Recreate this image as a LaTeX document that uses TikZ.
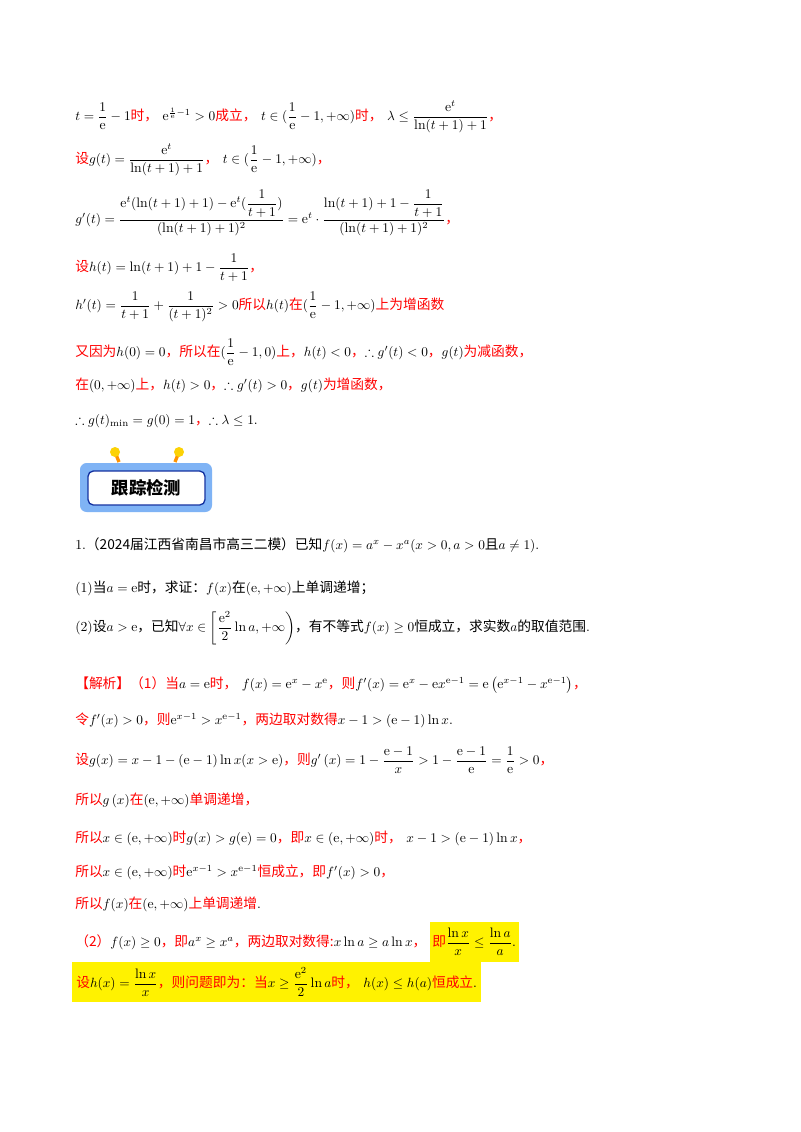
\documentclass[tikz,border=0pt]{standalone}
\usepackage{amsmath,amssymb}
\usepackage{fontspec}
\newfontfamily\cjk{Noto Sans CJK SC}
\newcommand{\rc}[1]{{\color{red}\cjk #1}}
\newcommand{\bc}[1]{{\cjk #1}}
\tikzset{ln/.style={anchor=west,inner sep=0pt,font=\fontsize{10.3}{12}\selectfont},
hl/.style={ln,fill=yellow,inner xsep=2pt,inner ysep=0pt,minimum height=30pt}}
\begin{document}
\begin{tikzpicture}[x=0.75pt,y=-0.75pt]
\useasboundingbox[fill=white] (0,0) rectangle (800,1132);
\node[ln] (l1) at (75,117) {$t=\dfrac{1}{\mathrm e}-1$\rc{时，}\ $\mathrm e^{\frac1{\mathrm e}-1}>0$\rc{成立，}\ $t\in(\dfrac1{\mathrm e}-1,+\infty)$\rc{时，}\ $\lambda\le\dfrac{\mathrm e^t}{\ln(t+1)+1}$\rc{，}};
\node[ln] (l2) at (75,160) {\rc{设}$g(t)=\dfrac{\mathrm e^t}{\ln(t+1)+1}$\rc{，}\ $t\in(\dfrac1{\mathrm e}-1,+\infty)$\rc{，}};
\node[ln] (l3) at (75,213) {$g'(t)=\dfrac{\mathrm e^t(\ln(t+1)+1)-\mathrm e^t(\dfrac1{t+1})}{(\ln(t+1)+1)^2}=\mathrm e^t\cdot\dfrac{\ln(t+1)+1-\dfrac1{t+1}}{(\ln(t+1)+1)^2}$\rc{，}};
\node[ln] (l4) at (75,268) {\rc{设}$h(t)=\ln(t+1)+1-\dfrac1{t+1}$\rc{，}};
\node[ln] (l5) at (75,307) {$h'(t)=\dfrac1{t+1}+\dfrac1{(t+1)^2}>0$\rc{所以}$h(t)$\rc{在}$(\dfrac1{\mathrm e}-1,+\infty)$\rc{上为增函数}};
\node[ln] (l6) at (75,352) {\rc{又因为}$h(0)=0$\rc{，所以在}$(\dfrac1{\mathrm e}-1,0)$\rc{上，}$h(t)<0$\rc{，}$\therefore g'(t)<0$\rc{，}$g(t)$\rc{为减函数，}};
\node[ln] (l7) at (75,385) {\rc{在}$(0,+\infty)$\rc{上，}$h(t)>0$\rc{，}$\therefore g'(t)>0$\rc{，}$g(t)$\rc{为增函数，}};
\node[ln] (l8) at (75,421) {$\therefore g(t)_{\min}=g(0)=1$\rc{，}$\therefore\lambda\le1$.};
% badge
\draw[orange!85!yellow,line width=2.5pt] (119,462) -- (115,452) (175,462) -- (179,452);
\fill[yellow!70!orange] (115,452) circle (5) (179,452) circle (5);
\fill[rounded corners=5pt,fill={rgb,255:red,127;green,179;blue,245}] (80,463) rectangle (212,512);
\draw[rounded corners=4pt,fill=white,draw={rgb,255:red,20;green,50;blue,160},line width=1pt] (88,471) rectangle (205,505);
\node[font=\cjk\bfseries\fontsize{13}{15}\selectfont] (badge) at (146.5,488) {跟踪检测};
\node[ln] (q) at (75,545) {1.\bc{（2024届江西省南昌市高三二模）已知}$f(x)=a^x-x^a(x>0,a>0$\bc{且}$a\ne1)$.};
\node[ln] (q1) at (75,588) {(1)\bc{当}$a=\mathrm e$\bc{时，求证：}$f(x)$\bc{在}$(\mathrm e,+\infty)$\bc{上单调递增；}};
\node[ln] (q2) at (75,628) {(2)\bc{设}$a>\mathrm e$\bc{，已知}$\forall x\in\left[\dfrac{\mathrm e^2}{2}\ln a,+\infty\right)$\bc{，有不等式}$f(x)\ge0$\bc{恒成立，求实数}$a$\bc{的取值范围}.};
\node[ln] (s1) at (75,685) {\rc{【解析】（1）当}$a=\mathrm e$\rc{时，}\ $f(x)=\mathrm e^x-x^{\mathrm e}$\rc{，则}$f'(x)=\mathrm e^x-\mathrm ex^{\mathrm e-1}=\mathrm e\left(\mathrm e^{x-1}-x^{\mathrm e-1}\right)$\rc{，}};
\node[ln] (s2) at (75,720) {\rc{令}$f'(x)>0$\rc{，则}$\mathrm e^{x-1}>x^{\mathrm e-1}$\rc{，两边取对数得}$x-1>(\mathrm e-1)\ln x$.};
\node[ln] (s3) at (75,760) {\rc{设}$g(x)=x-1-(\mathrm e-1)\ln x(x>\mathrm e)$\rc{，则}$g'\left(x\right)=1-\dfrac{\mathrm e-1}{x}>1-\dfrac{\mathrm e-1}{\mathrm e}=\dfrac1{\mathrm e}>0$\rc{，}};
\node[ln] (s4) at (75,800) {\rc{所以}$g\left(x\right)$\rc{在}$(\mathrm e,+\infty)$\rc{单调递增，}};
\node[ln] (s5) at (75,838) {\rc{所以}$x\in(\mathrm e,+\infty)$\rc{时}$g(x)>g(\mathrm e)=0$\rc{，即}$x\in(\mathrm e,+\infty)$\rc{时，}\ $x-1>(\mathrm e-1)\ln x$\rc{，}};
\node[ln] (s6) at (75,872) {\rc{所以}$x\in(\mathrm e,+\infty)$\rc{时}$\mathrm e^{x-1}>x^{\mathrm e-1}$\rc{恒成立，即}$f'(x)>0$\rc{，}};
\node[ln] (s7) at (75,904) {\rc{所以}$f(x)$\rc{在}$(\mathrm e,+\infty)$\rc{上单调递增}.};
\node[ln] (t1) at (75,942) {\rc{（2）}$f(x)\ge0$\rc{，即}$a^x\ge x^a$\rc{，两边取对数得:}$x\ln a\ge a\ln x$\rc{，}};
\node[hl] (t1b) at ([xshift=2pt]t1.east) {\rc{即}$\dfrac{\ln x}{x}\le\dfrac{\ln a}{a}$.};
\node[hl,inner xsep=3pt] (t2) at (72,982) {\rc{设}$h(x)=\dfrac{\ln x}{x}$\rc{，则问题即为：当}$x\ge\dfrac{\mathrm e^2}{2}\ln a$\rc{时，}\ $h(x)\le h(a)$\rc{恒成立}.};
\end{tikzpicture}
\end{document}
